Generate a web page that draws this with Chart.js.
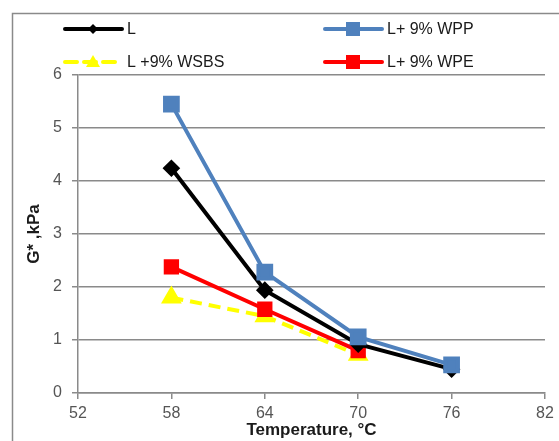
<!DOCTYPE html>
<html lang="en">
<head>
<meta charset="UTF-8">
<title>G* vs Temperature</title>
<script src="https://cdn.jsdelivr.net/npm/chart.js@4.4.1/dist/chart.umd.min.js"></script>
<style>
body {
margin: 0;
padding: 0;
background-color: #fff;
}
.wrap {
width: 559px;
height: 441px;
position: relative;
}
</style>
</head>
<body>
<div class="wrap">
<canvas id="gChart"></canvas>
</div>
<script>
// data
const temps = [58, 64, 70, 76];
const xTicks = [52, 58, 64, 70, 76, 82];
const gL = [4.24, 1.94, 0.92, 0.45];
const gWPP = [5.45, 2.28, 1.06, 0.53];
const gWSBS = [1.80, 1.45, 0.72];
const gWPE = [2.38, 1.58, 0.80];

function pts(vals) {
return vals.map((v, i) => ({x: temps[i], y: v}));
}

// draw one marker, used for the legend
function marker(ctx, style, x, y, r, color) {
ctx.save();
ctx.fillStyle = color;
ctx.beginPath();
if (style === 'rect') {
ctx.rect(x - r, y - r, r * 2, r * 2);
} else if (style === 'rectRot') {
ctx.moveTo(x, y - r); ctx.lineTo(x + r, y); ctx.lineTo(x, y + r); ctx.lineTo(x - r, y);
} else if (style === 'triangle') {
ctx.moveTo(x, y - r); ctx.lineTo(x + r, y + r * 0.7); ctx.lineTo(x - r, y + r * 0.7);
}
ctx.closePath();
ctx.fill();
ctx.restore();
}

const legendSpots = [
{x: 65, y: 29},
{x: 325, y: 29},
{x: 65, y: 62},
{x: 325, y: 62}
];

const frameAndLegend = {
id: 'frameAndLegend',
beforeDraw(chart) {
const ctx = chart.ctx;
ctx.save();
ctx.strokeStyle = '#8a8a8a';
ctx.lineWidth = 1.5;
ctx.strokeRect(12.5, 13.5, 600, 500);
ctx.restore();
},
afterDraw(chart) {
const ctx = chart.ctx;
chart.data.datasets.forEach((ds, i) => {
const p = legendSpots[i];
ctx.save();
ctx.strokeStyle = ds.borderColor;
ctx.lineWidth = ds.borderWidth;
ctx.lineCap = 'round';
if (ds.borderDash) ctx.setLineDash(ds.borderDash);
ctx.beginPath();
ctx.moveTo(p.x, p.y);
ctx.lineTo(p.x + 57, p.y);
ctx.stroke();
ctx.restore();
marker(ctx, ds.pointStyle, p.x + 28, p.y, ds.legendR, ds.pointBackgroundColor);
ctx.save();
ctx.fillStyle = '#1a1a1a';
ctx.font = '16px "Liberation Sans", Arial, sans-serif';
ctx.textBaseline = 'middle';
ctx.fillText(ds.label, p.x + 62, p.y + 1);
ctx.restore();
});
}
};

new Chart(document.getElementById('gChart'), {
type: 'line',
data: {
datasets: [
{
label: 'L',
data: pts(gL),
borderColor: '#000000',
pointBackgroundColor: '#000000',
pointBorderColor: '#000000',
borderWidth: 4,
pointStyle: 'rectRot',
pointRadius: 6,
legendR: 5,
order: 1
},
{
label: 'L+ 9% WPP',
data: pts(gWPP),
borderColor: '#4f81bd',
pointBackgroundColor: '#4f81bd',
pointBorderColor: '#4f81bd',
borderWidth: 4,
pointStyle: 'rect',
pointRadius: 9,
legendR: 7,
order: 0
},
{
label: 'L +9% WSBS',
data: pts(gWSBS),
borderColor: '#ffff00',
pointBackgroundColor: '#ffff00',
pointBorderColor: '#ffff00',
borderWidth: 4,
borderDash: [12, 7],
pointStyle: 'triangle',
pointRadius: 8,
legendR: 7,
order: 3
},
{
label: 'L+ 9% WPE',
data: pts(gWPE),
borderColor: '#ff0000',
pointBackgroundColor: '#ff0000',
pointBorderColor: '#ff0000',
borderWidth: 4,
pointStyle: 'rect',
pointRadius: 8,
legendR: 7,
order: 2
}
]
},
options: {
responsive: true,
maintainAspectRatio: false,
animation: false,
layout: {
padding: {left: 14, top: 75, right: 14, bottom: 0}
},
plugins: {
legend: {display: false},
tooltip: {enabled: false}
},
scales: {
x: {
type: 'linear',
min: 52,
max: 82,
afterBuildTicks(scale) {
scale.ticks = xTicks.map(v => ({value: v}));
},
afterFit(scale) {
scale.height = 48;
},
grid: {
drawOnChartArea: false,
color: '#8a8a8a',
lineWidth: 1.5,
tickLength: 6
},
border: {color: '#8a8a8a', width: 1.5},
ticks: {
color: '#555555',
font: {family: '"Liberation Sans", Arial, sans-serif', size: 16},
padding: 5
},
title: {
display: true,
text: 'Temperature, \u00b0C',
color: '#1a1a1a',
font: {family: '"Liberation Sans", Arial, sans-serif', size: 17, weight: 'bold'},
padding: {top: 0, bottom: 0}
}
},
y: {
min: 0,
max: 6,
ticks: {
stepSize: 1,
color: '#555555',
font: {family: '"Liberation Sans", Arial, sans-serif', size: 16},
padding: 10
},
afterFit(scale) {
scale.width = 64;
},
grid: {
color: '#8a8a8a',
lineWidth: 1.5,
tickLength: 6
},
border: {color: '#8a8a8a', width: 1.5},
title: {
display: true,
text: 'G* ,kPa',
color: '#1a1a1a',
font: {family: '"Liberation Sans", Arial, sans-serif', size: 17, weight: 'bold'},
padding: {top: 10, bottom: 0}
}
}
}
},
plugins: [frameAndLegend]
});
</script>
</body>
</html>
